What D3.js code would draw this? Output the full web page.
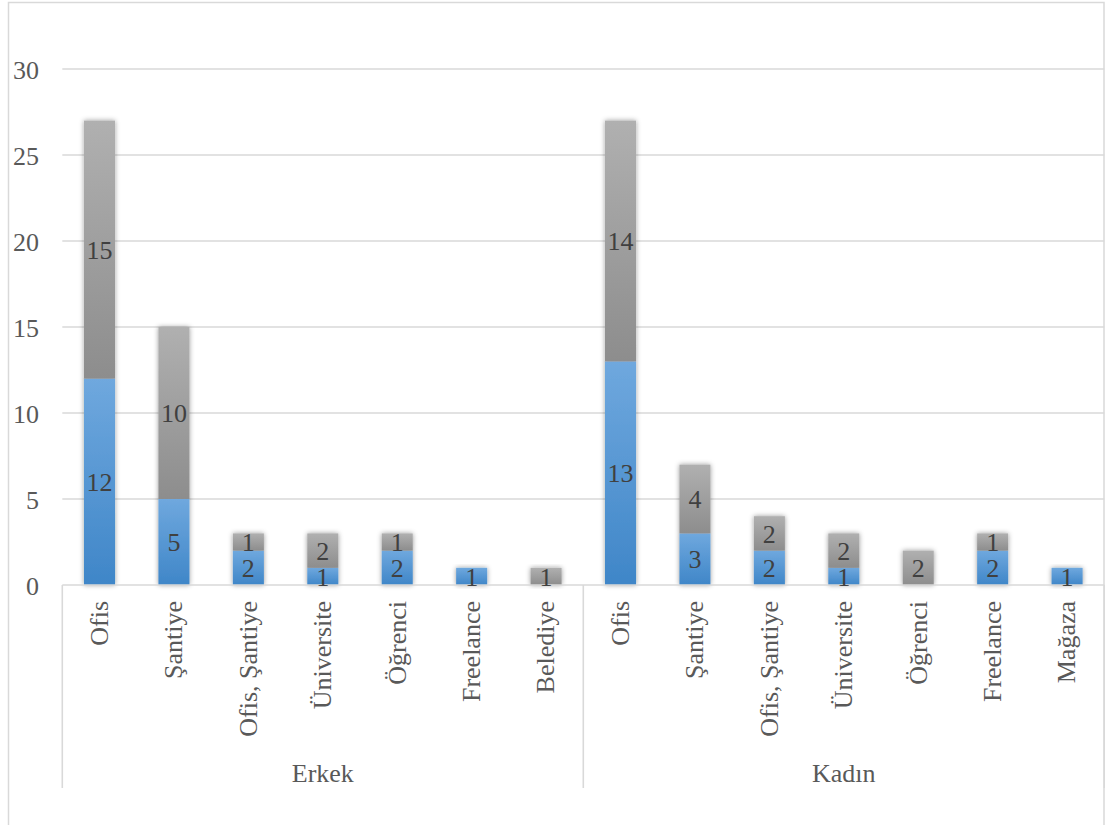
<!DOCTYPE html>
<html>
<head>
<meta charset="utf-8">
<script src="https://cdn.jsdelivr.net/npm/d3@7"></script>
<style>
  html, body { margin: 0; padding: 0; background: #fff; }
  svg { display: block; }
</style>
</head>
<body>
<svg id="chart" width="1105" height="825"></svg>
<script>
// Outer grouping (gender) and the workplace categories inside each group
const groups = ["Erkek", "Kadın"];
const erkekCategories = ["Ofis", "Şantiye", "Ofis, Şantiye", "Üniversite", "Öğrenci", "Freelance", "Belediye"];
const kadinCategories = ["Ofis", "Şantiye", "Ofis, Şantiye", "Üniversite", "Öğrenci", "Freelance", "Mağaza"];

// Stacked series: lower (blue) and upper (gray) segment per category
const erkekLower = [12, 5, 2, 1, 2, 1, 0];
const erkekUpper = [15, 10, 1, 2, 1, 0, 1];
const kadinLower = [13, 3, 2, 1, 0, 2, 1];
const kadinUpper = [14, 4, 2, 2, 2, 1, 0];

const yTicks = [0, 5, 10, 15, 20, 25, 30];

// Flat table built from the arrays above
const rows = [];
erkekCategories.forEach((c, i) => rows.push({ group: "Erkek", cat: c, key: "E" + i, lower: erkekLower[i], upper: erkekUpper[i] }));
kadinCategories.forEach((c, i) => rows.push({ group: "Kadın", cat: c, key: "K" + i, lower: kadinLower[i], upper: kadinUpper[i] }));

const FONT = "'Liberation Serif', 'Times New Roman', serif";
const svg = d3.select("#chart");
const plotLeft = 62.3, plotRight = 1104.3, plotTop = 69, plotBase = 585, axisBottom = 788;

const x = d3.scaleBand()
  .domain(rows.map(d => d.key))
  .range([plotLeft, plotRight])
  .paddingInner(0.583)
  .paddingOuter(0.2915);
const y = d3.scaleLinear().domain([0, 30]).range([plotBase, plotTop]);

// Gradients and soft shadow for the columns
const defs = svg.append("defs");
function grad(id, c1, c2) {
  const g = defs.append("linearGradient").attr("id", id).attr("x1", 0).attr("y1", 0).attr("x2", 0).attr("y2", 1);
  g.append("stop").attr("offset", "0%").attr("stop-color", c1);
  g.append("stop").attr("offset", "100%").attr("stop-color", c2);
}
grad("gBlue", "#6fa8de", "#3f86c8");
grad("gGray", "#b0b0b0", "#8d8d8d");
const f = defs.append("filter").attr("id", "shadow").attr("x", "-50%").attr("y", "-20%").attr("width", "200%").attr("height", "140%");
f.append("feDropShadow").attr("dx", 0).attr("dy", 0).attr("stdDeviation", 2.5)
  .attr("flood-color", "#000").attr("flood-opacity", 0.4);

// Chart frame
svg.append("rect").attr("x", 8.5).attr("y", 2.5).attr("width", 1095.5).attr("height", 840)
  .attr("fill", "none").attr("stroke", "#d9d9d9").attr("stroke-width", 1.5);

// Horizontal gridlines
svg.append("g").selectAll("line").data(yTicks.filter(t => t > 0)).join("line")
  .attr("x1", plotLeft).attr("x2", plotRight)
  .attr("y1", d => y(d)).attr("y2", d => y(d))
  .attr("stroke", "#d9d9d9").attr("stroke-width", 1.6);

// Y axis tick labels
const yAxis = d3.axisLeft(y).tickValues(yTicks).tickSize(0).tickPadding(0);
const ya = svg.append("g").attr("transform", "translate(39,0)").call(yAxis);
ya.select(".domain").remove();
ya.selectAll("text")
  .attr("x", 0).attr("dy", "0.35em")
  .attr("fill", "#595959").attr("text-anchor", "end")
  .style("font-family", FONT).style("font-size", "26px");

// Stacked columns
const bars = svg.append("g").selectAll("g").data(rows).join("g").attr("filter", "url(#shadow)");
bars.filter(d => d.lower > 0).append("rect")
  .attr("x", d => x(d.key)).attr("width", x.bandwidth())
  .attr("y", d => y(d.lower)).attr("height", d => y(0) - y(d.lower))
  .attr("fill", "url(#gBlue)");
bars.filter(d => d.upper > 0).append("rect")
  .attr("x", d => x(d.key)).attr("width", x.bandwidth())
  .attr("y", d => y(d.lower + d.upper)).attr("height", d => y(d.lower) - y(d.lower + d.upper))
  .attr("fill", "url(#gGray)");

// Category axis line and group separators
svg.append("line").attr("x1", plotLeft).attr("x2", plotRight).attr("y1", plotBase).attr("y2", plotBase)
  .attr("stroke", "#d9d9d9").attr("stroke-width", 1.6);
const sepX = [plotLeft, x("K0") - (x.step() - x.bandwidth()) / 2, plotRight];
svg.append("g").selectAll("line").data(sepX).join("line")
  .attr("x1", d => d).attr("x2", d => d).attr("y1", plotBase).attr("y2", axisBottom)
  .attr("stroke", "#d9d9d9").attr("stroke-width", 1.6);

// Data labels centred in each segment
const lab = svg.append("g");
rows.forEach(d => {
  const cx = x(d.key) + x.bandwidth() / 2;
  const segs = [];
  if (d.lower > 0) segs.push({ v: d.lower, mid: d.lower / 2 });
  if (d.upper > 0) segs.push({ v: d.upper, mid: d.lower + d.upper / 2 });
  segs.forEach(s => lab.append("text")
    .attr("x", cx).attr("y", y(s.mid)).attr("dy", "0.35em")
    .attr("text-anchor", "middle").attr("fill", "#404040")
    .style("font-family", FONT).style("font-size", "26px")
    .text(s.v));
});

// Rotated category labels
svg.append("g").selectAll("text").data(rows).join("text")
  .attr("transform", d => `translate(${x(d.key) + x.bandwidth() / 2},601) rotate(-90)`)
  .attr("text-anchor", "end").attr("dy", "0.32em")
  .attr("fill", "#595959")
  .style("font-family", FONT).style("font-size", "26px")
  .text(d => d.cat);

// Group labels centred under their categories
svg.append("g").selectAll("text").data(groups).join("text")
  .attr("x", g => {
    const ks = rows.filter(r => r.group === g).map(r => r.key);
    return (x(ks[0]) + x(ks[ks.length - 1]) + x.bandwidth()) / 2;
  })
  .attr("y", 782)
  .attr("text-anchor", "middle").attr("fill", "#595959")
  .style("font-family", FONT).style("font-size", "26px")
  .text(g => g);
</script>
</body>
</html>
